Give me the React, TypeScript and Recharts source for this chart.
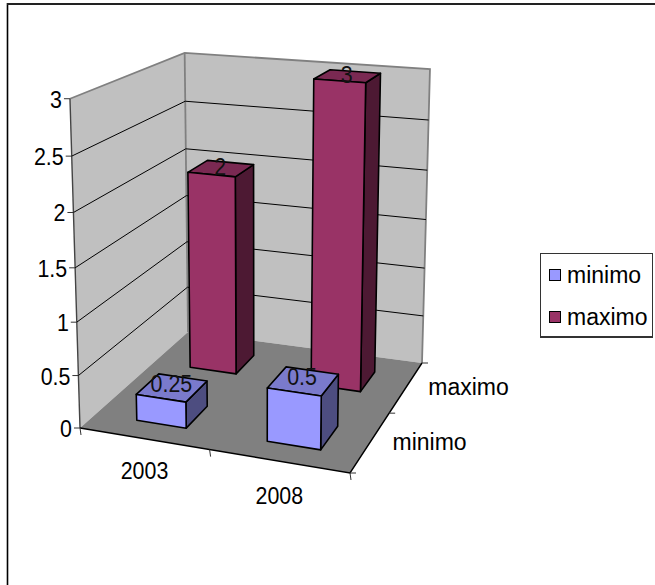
import React from 'react';
import { BarChart, Bar, XAxis, YAxis, CartesianGrid, Legend } from 'recharts';

const categories = ['2003', '2008'];
const minimoValues = [0.25, 0.5];
const maximoValues = [2, 3];
const seriesNames = ['minimo', 'maximo'];
const valueTicks = [0, 0.5, 1, 1.5, 2, 2.5, 3];

const rows = categories.map((year, i) => ({
  year,
  minimo: minimoValues[i],
  maximo: maximoValues[i],
}));

const W = 655;
const H = 585;
const AXIS_W = 30;
const AXIS_H = 30;
const PLOT_W = W - AXIS_W;
const PLOT_H = H - AXIS_H;
const BAR_SHARE = 0.4; // box footprint within its cell, on both floor directions
const LEFT_INSET = 0.006; // trims the left face of every box slightly
const FRONT_ROW_U = 0.008; // the front row sits a little to the right...
const FRONT_ROW_W = 0.02; // ...and a little nearer the viewer
const FONT = '"Liberation Sans", Arial, sans-serif';
const FONT_SIZE = 23;
const NUMERAL_SIZE = 24;

// Floor corners of the 3D box on screen, and the point where its verticals meet.
const FL = [80, 428];
const FR = [350, 473];
const BR = [422, 363];
const BL = [188, 332];
const VANISH = [260, 6335];
const HEIGHT_TERM = -0.0528;
const HEIGHT_U = 0.014;
const HEIGHT_W = 0.011;

const det =
  (FR[0] - BR[0]) * (BL[1] - BR[1]) - (BL[0] - BR[0]) * (FR[1] - BR[1]);
const sx = FL[0] - FR[0] + BR[0] - BL[0];
const sy = FL[1] - FR[1] + BR[1] - BL[1];
const gu = (sx * (BL[1] - BR[1]) - (BL[0] - BR[0]) * sy) / det;
const gw = ((FR[0] - BR[0]) * sy - sx * (FR[1] - BR[1])) / det;

// u: along the years, w: into the depth, v: height (all 0..1)
function project(u: number, w: number, v: number): [number, number] {
  const g = 1 + gu * u + gw * w;
  const x0 = (FL[0] + u * (FR[0] * (1 + gu) - FL[0]) + w * (BL[0] * (1 + gw) - FL[0])) / g;
  const y0 = (FL[1] + u * (FR[1] * (1 + gu) - FL[1]) + w * (BL[1] * (1 + gw) - FL[1])) / g;
  const h = g + HEIGHT_U * u + HEIGHT_W * w;
  const t = (v * HEIGHT_TERM) / (h + v * HEIGHT_TERM);
  return [x0 + (VANISH[0] - x0) * t, y0 + (VANISH[1] - y0) * t];
}

const toU = (x: number) => (x - AXIS_W) / PLOT_W;
const toV = (y: number) => (PLOT_H - y) / PLOT_H;
const pts = (list: [number, number][]) => list.map((p) => p.join(',')).join(' ');
const cellStart = (i: number, n: number) => (i + (1 - BAR_SHARE) / 2) / n;

// Numerals in this chart are tall and narrow compared with the font's natural shape.
function numeralLength(value: string | number) {
  const s = String(value);
  const em = [...s].reduce((sum, ch) => sum + (ch === '.' ? 0.278 : 0.556), 0);
  return em * FONT_SIZE * 0.93;
}

function boxFaces(u0: number, u1: number, w0: number, w1: number, v: number) {
  return {
    front: [project(u0, w0, 0), project(u1, w0, 0), project(u1, w0, v), project(u0, w0, v)],
    side: [project(u1, w0, 0), project(u1, w1, 0), project(u1, w1, v), project(u1, w0, v)],
    top: [project(u0, w0, v), project(u1, w0, v), project(u1, w1, v), project(u0, w1, v)],
  };
}

const PALETTE: Record<string, { front: string; top: string; side: string }> = {
  minimo: { front: '#9999FF', top: '#7A7ACC', side: '#4D4D80' },
  maximo: { front: '#993366', top: '#7A2952', side: '#4D1933' },
};

// Bar heights come from the value scale; each bar is rebuilt as a box in the 3D frame.
function Box3D(props: any) {
  const { y, index, series, depthIndex } = props;
  const frontRow = depthIndex === 0;
  const uShift = frontRow ? FRONT_ROW_U : 0;
  const wShift = frontRow ? FRONT_ROW_W : 0;
  const uStart = cellStart(index, categories.length);
  const u0 = uStart + uShift + LEFT_INSET;
  const u1 = uStart + BAR_SHARE / categories.length + uShift;
  const w0 = cellStart(depthIndex, seriesNames.length) - wShift;
  const w1 = w0 + BAR_SHARE / seriesNames.length;
  const faces = boxFaces(u0, u1, w0, w1, toV(y));
  const c = PALETTE[series];
  const line = { stroke: '#000', strokeWidth: 1.6, strokeLinejoin: 'round' as const };
  return (
    <g>
      <polygon points={pts(faces.side)} fill={c.side} {...line} />
      <polygon points={pts(faces.top)} fill={c.top} {...line} />
      <polygon points={pts(faces.front)} fill={c.front} {...line} />
    </g>
  );
}

function BoxLabel(props: any) {
  const { y, value, index, depthIndex } = props;
  const u = (index + 0.5) / categories.length;
  const w = (depthIndex + 0.5) / seriesNames.length;
  const [cx, cy] = project(u, w, toV(y));
  return (
    <text x={cx} y={cy - 2} textAnchor="middle" dominantBaseline="central"
      textLength={numeralLength(value)} lengthAdjust="spacingAndGlyphs"
      fontFamily={FONT} fontSize={NUMERAL_SIZE} fill="#111">
      {value}
    </text>
  );
}

// Wall gridlines: one segment on the left wall, one on the back wall.
function WallLine(props: any) {
  const v = toV(props.y1);
  if (v < 0.001 || v > 0.999) return <g />;
  const a = project(0, 0, v);
  const b = project(0, 1, v);
  const c = project(1, 1, v);
  return <polyline points={pts([a, b, c])} fill="none" stroke="#000" strokeWidth={1} />;
}

function ValueTick(props: any) {
  const { y, payload } = props;
  const [px, py] = project(0, 0, toV(y));
  return (
    <g>
      <line x1={px - 6} y1={py} x2={px} y2={py} stroke="#333" strokeWidth={1} />
      <text x={px - 8} y={py + 0.5} textAnchor="end" dominantBaseline="central"
        textLength={numeralLength(payload.value)} lengthAdjust="spacingAndGlyphs"
        fontFamily={FONT} fontSize={NUMERAL_SIZE} fill="#000">
        {payload.value}
      </text>
    </g>
  );
}

function YearTick(props: any) {
  const { x, payload, index } = props;
  const [px, py] = project(toU(x), 0, 0);
  return (
    <text x={px + 1} y={py + 40 + index * 3} textAnchor="middle"
      textLength={numeralLength(payload.value)} lengthAdjust="spacingAndGlyphs"
      fontFamily={FONT} fontSize={NUMERAL_SIZE} fill="#000">
      {payload.value}
    </text>
  );
}

function FloorTicks() {
  const along = [0, 0.5, 1].map((u) => project(u, 0, 0));
  const deep = [0, 0.5, 1].map((w) => project(1, w, 0));
  return (
    <g stroke="#333" strokeWidth={1}>
      {along.map(([x, y], i) => (
        <line key={i} x1={x} y1={y} x2={x + 1} y2={y + 7} />
      ))}
      {deep.map(([x, y], i) => (
        <line key={i} x1={x} y1={y} x2={x + 6} y2={y} />
      ))}
    </g>
  );
}

// Walls and floor sit behind the transparent chart surface.
function Frame() {
  const wallLeft = [project(0, 0, 0), project(0, 1, 0), project(0, 1, 1), project(0, 0, 1)];
  const wallBack = [project(0, 1, 0), project(1, 1, 0), project(1, 1, 1), project(0, 1, 1)];
  const floor = [project(0, 0, 0), project(1, 0, 0), project(1, 1, 0), project(0, 1, 0)];
  const edge = { stroke: '#808080', strokeWidth: 1.8, fill: 'none' };
  return (
    <svg width={W} height={H} style={{ position: 'absolute', left: 0, top: 0 }}>
      <rect width={W} height={H} fill="#fff" />
      <line x1={7.5} y1={3} x2={7.5} y2={H} stroke="#000" strokeWidth={1.6} />
      <line x1={7} y1={4} x2={W} y2={4} stroke="#222" strokeWidth={1.8} />
      <polygon points={pts(wallLeft)} fill="#C0C0C0" />
      <polygon points={pts(wallBack)} fill="#C0C0C0" />
      <polygon points={pts(floor)} fill="#808080" />
      <polyline points={pts([wallLeft[3], wallLeft[2], wallBack[2], wallBack[1]])} {...edge} />
      <line x1={wallLeft[1][0]} y1={wallLeft[1][1]} x2={wallLeft[2][0]} y2={wallLeft[2][1]} {...edge} />
      <line x1={wallLeft[0][0]} y1={wallLeft[0][1]} x2={wallLeft[3][0]} y2={wallLeft[3][1]} stroke="#444" strokeWidth={1.4} />
      <polyline points={pts([floor[0], floor[1], floor[2]])} fill="none" stroke="#000" strokeWidth={1.4} />
      <FloorTicks />
      {seriesNames.map((name, i) => {
        const [x, y] = project(1, (i + 0.5) / seriesNames.length, 0);
        return (
          <text key={name} x={x + 22} y={y + 8} fontFamily={FONT} fontSize={FONT_SIZE} fill="#000">
            {name}
          </text>
        );
      })}
    </svg>
  );
}

function LegendBox() {
  return (
    <div style={{
      width: 113, height: 85, boxSizing: 'border-box', border: '1px solid #333', borderBottomWidth: 2,
      background: '#fff', fontFamily: FONT, fontSize: FONT_SIZE, color: '#000', position: 'relative',
    }}>
      {seriesNames.map((name, i) => (
        <div key={name} style={{ position: 'absolute', left: 8, top: 8 + i * 42, display: 'flex', alignItems: 'center', height: 26 }}>
          <span style={{
            width: 10, height: 10, border: '1.5px solid #000', background: PALETTE[name].front,
            display: 'inline-block', marginRight: 6,
          }} />
          {name}
        </div>
      ))}
    </div>
  );
}

export default function App() {
  return (
    <div style={{ position: 'absolute', left: 0, top: 0, width: W, height: H }}>
      <Frame />
      <div style={{ position: 'absolute', left: 0, top: 0 }}>
        <BarChart width={W} height={H} data={rows} margin={{ top: 0, right: 0, bottom: 0, left: 0 }}>
          <CartesianGrid vertical={false} horizontal={(p: any) => <WallLine key={p.key} {...p} />} />
          <XAxis dataKey="year" height={AXIS_H} axisLine={false} tickLine={false} tick={YearTick} interval={0} />
          <YAxis domain={[0, 3]} ticks={valueTicks} width={AXIS_W} axisLine={false} tickLine={false} tick={ValueTick} interval={0} />
          <Legend layout="horizontal" verticalAlign="middle" align="center" content={() => <LegendBox />}
            wrapperStyle={{ position: 'absolute', left: 540, top: 253, width: 113, height: 85 }} />
          <Bar dataKey="maximo" isAnimationActive={false}
            shape={(p: any) => <Box3D {...p} series="maximo" depthIndex={1} />}
            label={(p: any) => <BoxLabel {...p} depthIndex={1} />} />
          <Bar dataKey="minimo" isAnimationActive={false}
            shape={(p: any) => <Box3D {...p} series="minimo" depthIndex={0} />}
            label={(p: any) => <BoxLabel {...p} depthIndex={0} />} />
        </BarChart>
      </div>
    </div>
  );
}
